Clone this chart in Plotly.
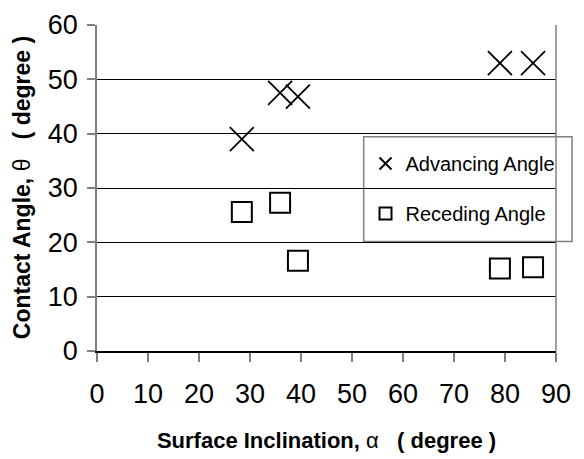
import plotly.graph_objects as go

adv_x = [28.4, 35.9, 39.4, 79.0, 85.5]
adv_y = [39.0, 47.5, 46.8, 53.0, 53.0]
rec_x = [28.4, 35.9, 39.4, 79.0, 85.5]
rec_y = [25.6, 27.3, 16.6, 15.2, 15.4]
x_ticks = list(range(0, 100, 10))
y_ticks = list(range(0, 70, 10))

FONT = "Liberation Sans, Arial, sans-serif"

fig = go.Figure()
fig.add_trace(go.Scatter(
    x=adv_x, y=adv_y, mode="markers", name="Advancing Angle", legendgroup="a",
    marker=dict(symbol="x-thin-open", size=24, line=dict(color="black", width=1.8), color="black"),
))
fig.add_trace(go.Scatter(
    x=rec_x, y=rec_y, mode="markers", name="Receding Angle", legendgroup="b",
    marker=dict(symbol="square-open", size=20, line=dict(color="black", width=2), color="black"),
))

fig.update_layout(
    width=584, height=459,
    margin=dict(l=97, r=28, t=25, b=108, autoexpand=False),
    paper_bgcolor="white", plot_bgcolor="white",
    font=dict(family=FONT, color="black"),
    showlegend=True,
    legend=dict(
        x=0.585, y=0.635, xanchor="left", yanchor="top",
        bgcolor="rgba(0,0,0,0)", borderwidth=0,
        font=dict(size=20, family=FONT), tracegroupgap=21,
        itemsizing="constant",
    ),
    xaxis=dict(
        range=[0, 90], tickvals=x_ticks, ticks="outside", ticklen=9,
        tickcolor="#808080", tickwidth=1.5, showgrid=False, zeroline=False,
        showline=True, linecolor="black", linewidth=2, automargin=False,
        tickfont=dict(size=27, family=FONT), ticklabelstandoff=9,
        title=dict(text="<b>Surface Inclination, </b>α<b>   ( degree )</b>",
                   font=dict(size=22, family=FONT), standoff=24),
    ),
    yaxis=dict(
        range=[0, 60], tickvals=y_ticks, ticks="outside", ticklen=8,
        tickcolor="#808080", tickwidth=1.5, showgrid=True, gridcolor="black", gridwidth=1,
        zeroline=False, showline=True, linecolor="#808080", linewidth=1.5, automargin=False,
        tickfont=dict(size=27, family=FONT), ticklabelstandoff=4,
    ),
    annotations=[
        dict(text="<b>Contact Angle, </b>θ<b>   ( degree )</b>", textangle=-90,
             xref="paper", yref="paper", x=-0.163, y=0.5, xanchor="center", yanchor="middle",
             showarrow=False, font=dict(size=23, family=FONT)),
    ],
    shapes=[
        dict(type="line", xref="paper", yref="paper", x0=1, x1=1, y0=0, y1=1,
             line=dict(color="#808080", width=1.5)),
        dict(type="rect", xref="paper", yref="paper",
             x0=0.581, x1=1.035, y0=0.336, y1=0.657,
             line=dict(color="#808080", width=1.5), fillcolor="white", layer="below"),
    ],
)
fig.write_html("out.html")
